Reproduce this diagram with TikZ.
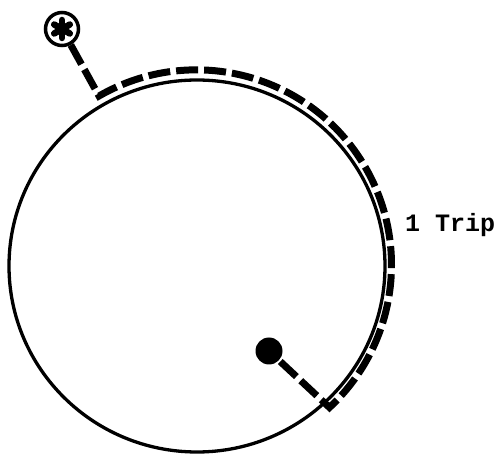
\documentclass[tikz,border=0pt]{standalone}
\usepackage{fontspec}
\usetikzlibrary{shapes.geometric,calc}
\newfontfamily\labelfont{Liberation Mono}
\begin{document}
\begin{tikzpicture}[x=1pt,y=1pt,
  ring/.style={ellipse, draw=black, line width=3.3pt, inner sep=0pt, minimum width=376pt, minimum height=372pt},
  pathline/.style={draw=black, line width=7pt, dash pattern=on 22pt off 6pt, line join=miter},
  petal/.style={line width=6.5pt, line cap=round},
  marker/.style={circle, draw=black, line width=3.5pt, minimum size=33pt, inner sep=0pt},
  enddot/.style={circle, fill=black, minimum size=27pt, inner sep=0pt},
  lbl/.style={font=\labelfont\bfseries\fontsize{25}{25}\selectfont, inner sep=0pt, anchor=base west}]
\useasboundingbox (0,0) rectangle (499,456);
% main circle
\node[ring] (loop) at (197,190) {};
% start marker with asterisk
\node[marker] (start) at (62,427) {};
\foreach \a in {90,30,150}
  \draw[petal] ($(start.center)+(\a:9)$) -- ($(start.center)+(\a+180:9)$);
% end dot
\node[enddot] (stop) at (269,105) {};
% corners of the trip path
\coordinate (c1) at (99,360);
% trip path
\draw[pathline] (start) -- (c1) arc[start angle=120, end angle=-47, radius=195] coordinate (c2) -- (stop);
% label
\node[lbl] (trip) at (405,224) {1 Trip};
\end{tikzpicture}
\end{document}
